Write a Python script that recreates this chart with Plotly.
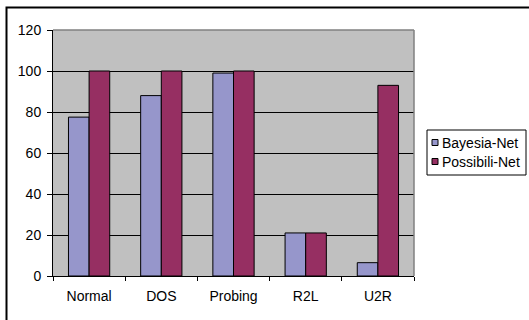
import plotly.graph_objects as go

# Detection rate (%) per traffic class for the two classifiers
categories = ["Normal", "DOS", "Probing", "R2L", "U2R"]
bayesia_net = [77.5, 88, 99, 21, 6.5]
possibili_net = [100, 100, 100, 21, 93]
series_names = ["Bayesia-Net", "Possibili-Net"]
y_ticks = [0, 20, 40, 60, 80, 100, 120]

W, H = 529, 320
ML, MR, MT, MB = 53, 115, 30, 44
PW, PH = W - ML - MR, H - MT - MB

COL_B = "#9696CB"
COL_P = "#962F62"
FONT = dict(family="Liberation Sans, Arial, sans-serif", size=14, color="#000000")


def px_x(px):
    return (px - ML) / PW


def px_y(py):
    return (H - MB - py) / PH


fig = go.Figure()
for name, vals, col in zip(series_names, [bayesia_net, possibili_net], [COL_B, COL_P]):
    fig.add_trace(go.Bar(
        x=categories, y=vals, name=name,
        marker=dict(color=col, line=dict(color="#000000", width=1)),
        showlegend=False,
    ))

shapes = [
    # outer chart frame (runs past the right and bottom edges)
    dict(type="path", xref="paper", yref="paper",
         path=f"M {px_x(6.5)},{px_y(330)} L {px_x(6.5)},{px_y(7.5)} L {px_x(540)},{px_y(7.5)}",
         line=dict(color="#000000", width=2), layer="above"),
    # grey plot-area border on top and right
    dict(type="line", xref="paper", yref="paper", x0=0, x1=1, y0=1, y1=1,
         line=dict(color="#808080", width=1.5), layer="above"),
    dict(type="line", xref="paper", yref="paper", x0=1, x1=1, y0=0, y1=1,
         line=dict(color="#808080", width=1.5), layer="above"),
    # legend box
    dict(type="rect", xref="paper", yref="paper",
         x0=px_x(427), x1=px_x(526), y0=px_y(175), y1=px_y(130),
         line=dict(color="#000000", width=1), fillcolor="#FFFFFF", layer="above"),
]

annotations = []
row_y = [142.5, 161.5]
for name, col, ry in zip(series_names, [COL_B, COL_P], row_y):
    shapes.append(dict(type="rect", xref="paper", yref="paper",
                       x0=px_x(432), x1=px_x(438), y0=px_y(ry + 3), y1=px_y(ry - 3),
                       line=dict(color="#000000", width=1), fillcolor=col, layer="above"))
    annotations.append(dict(text=name, xref="paper", yref="paper",
                            x=px_x(440), y=px_y(ry), xanchor="left", yanchor="middle",
                            showarrow=False, font=FONT))

fig.update_layout(
    width=W, height=H,
    margin=dict(l=ML, r=MR, t=MT, b=MB, autoexpand=False),
    paper_bgcolor="#FFFFFF",
    plot_bgcolor="#C0C0C0",
    barmode="group",
    bargap=1.5 / 3.5,
    bargroupgap=0,
    font=FONT,
    shapes=shapes,
    annotations=annotations,
    xaxis=dict(
        type="category", showgrid=False, tickson="boundaries",
        ticks="outside", ticklen=4, tickcolor="#000000",
        showline=True, linecolor="#000000", linewidth=1,
        tickfont=FONT, fixedrange=True, ticklabelstandoff=7,
    ),
    yaxis=dict(
        range=[0, 120], tickvals=y_ticks, showgrid=True,
        gridcolor="#000000", gridwidth=1,
        ticks="outside", ticklen=5, tickcolor="#000000",
        showline=True, linecolor="#000000", linewidth=1,
        zeroline=False, tickfont=FONT, fixedrange=True, ticklabelstandoff=3,
    ),
)

fig.write_html("out.html")
